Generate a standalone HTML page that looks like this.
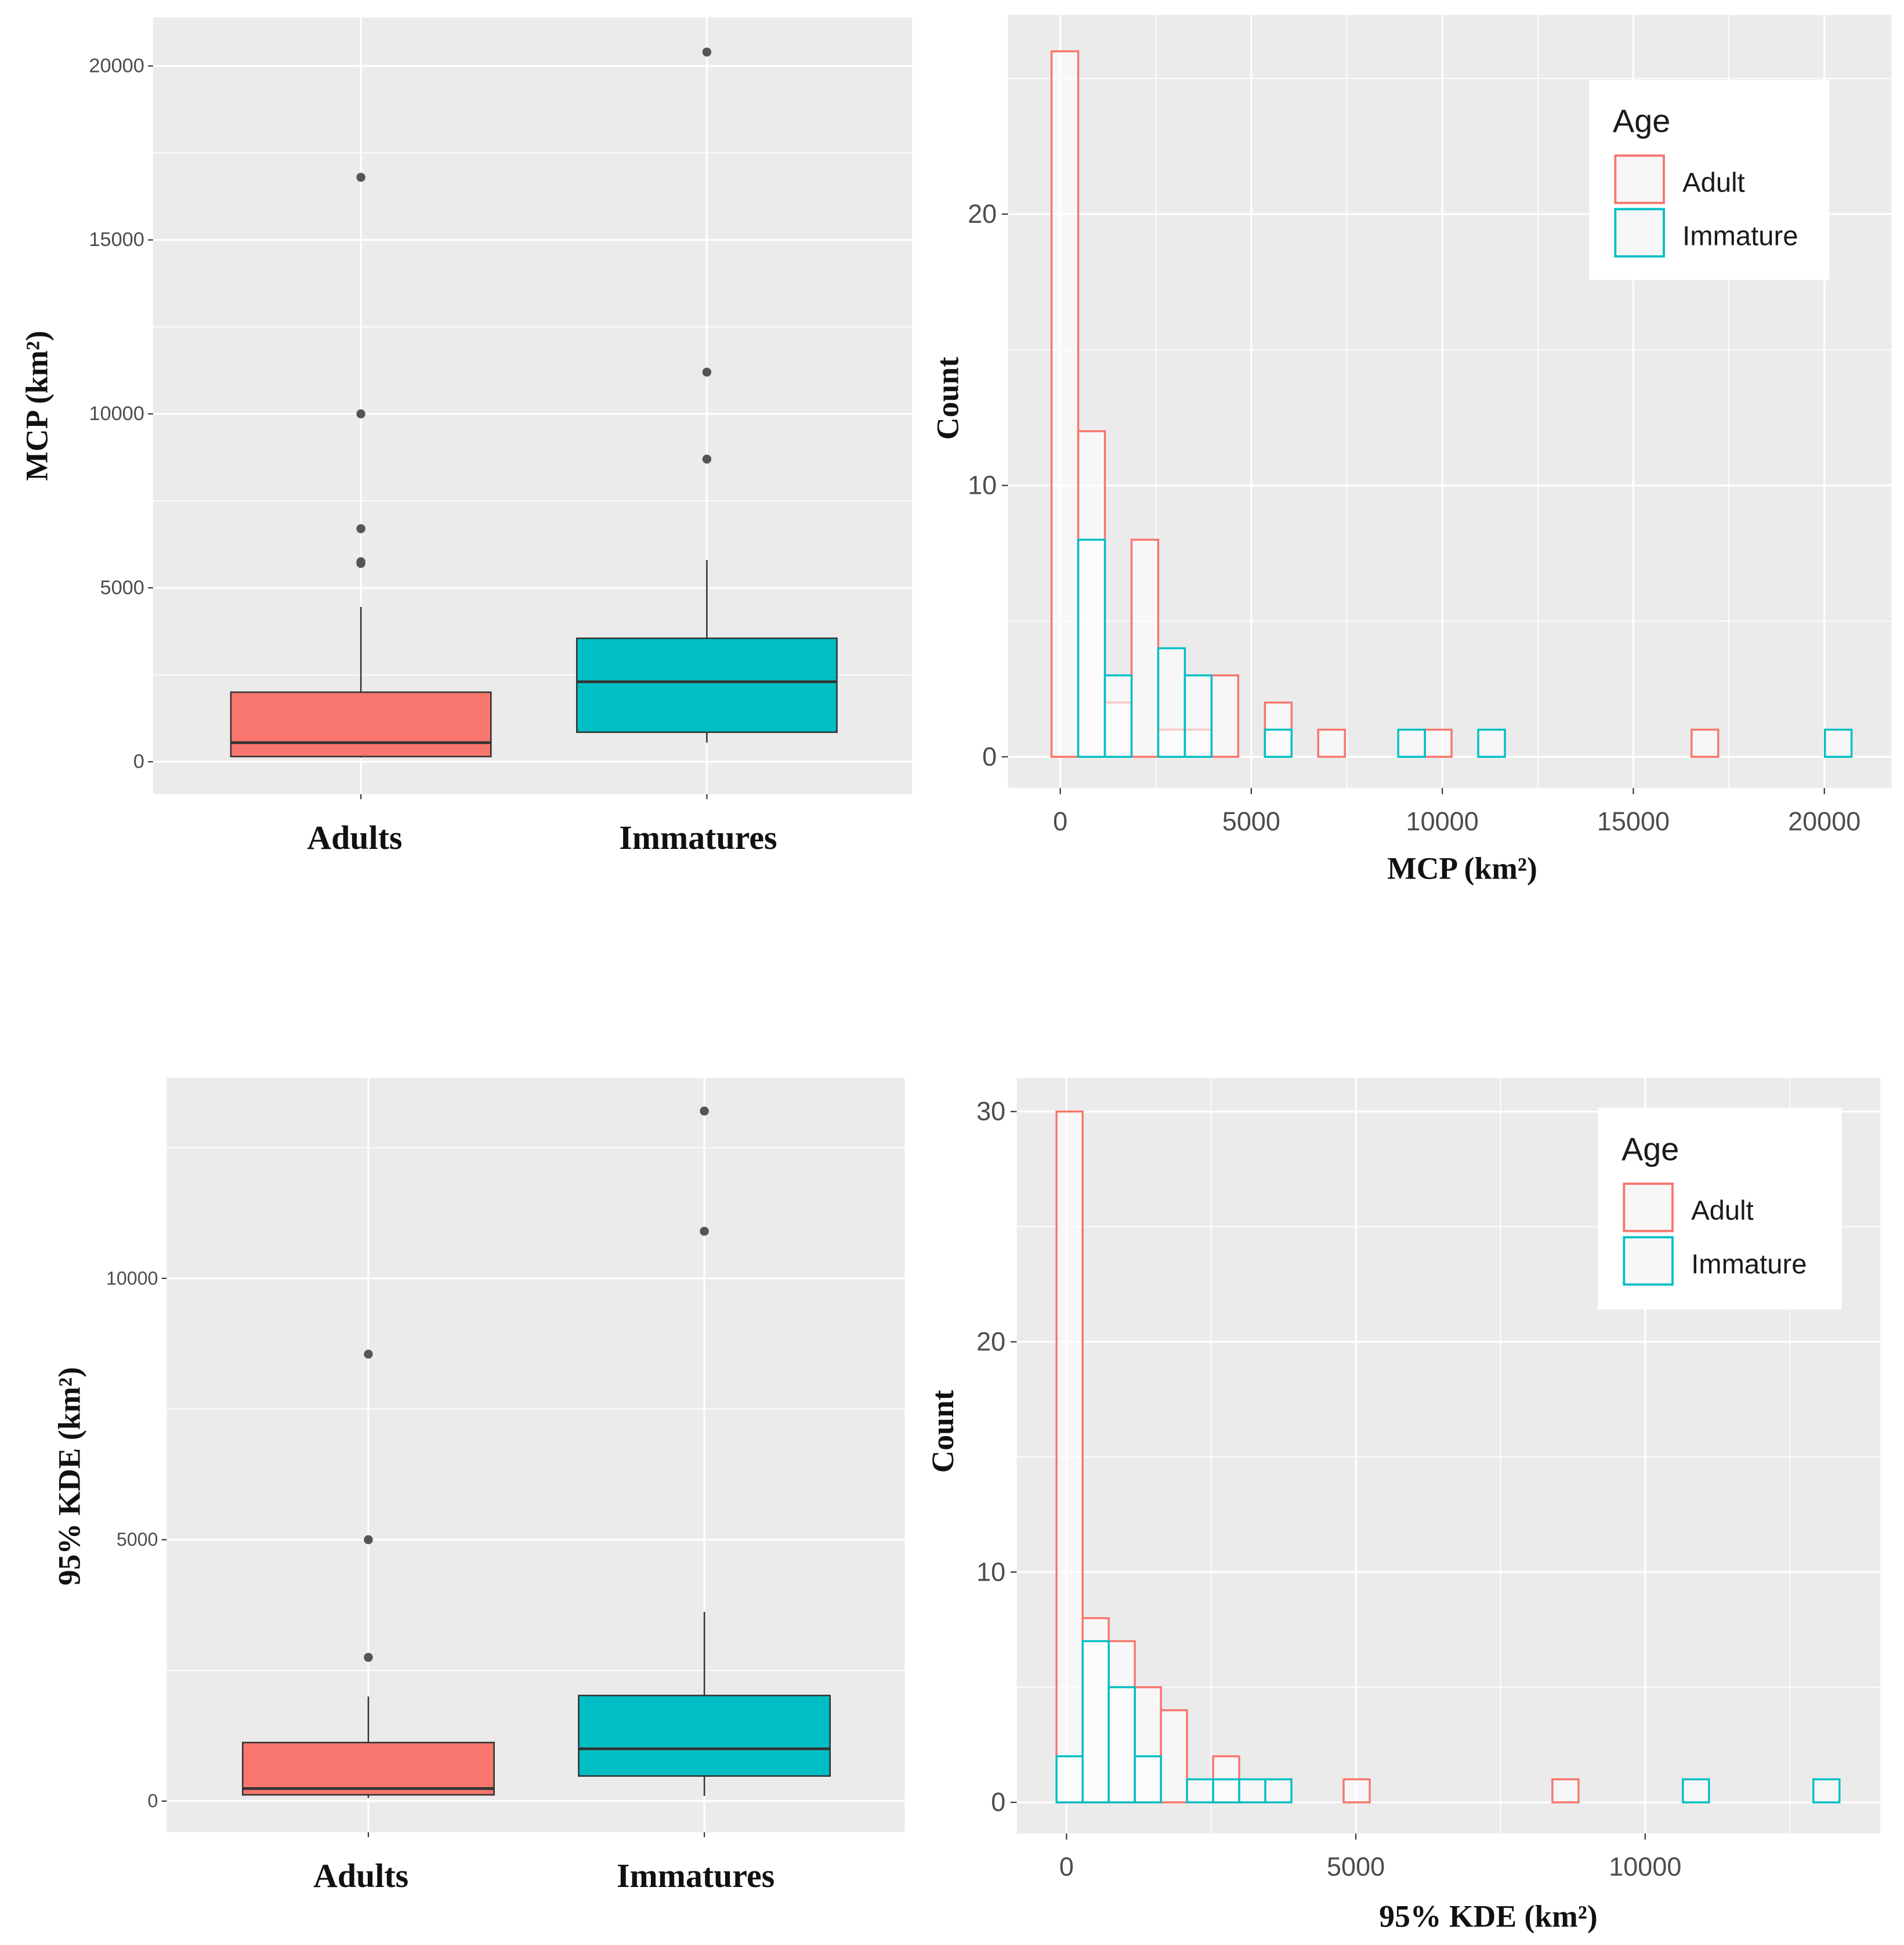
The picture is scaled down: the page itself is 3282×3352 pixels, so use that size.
<!DOCTYPE html>
<html><head><meta charset="utf-8"><style>
html,body{margin:0;padding:0;background:#fff;}
svg{display:block;}
.tick{font-family:"Liberation Sans",sans-serif;fill:#4d4d4d;}
.title{font-family:"Liberation Serif",serif;font-weight:bold;fill:#111;}
.leg{font-family:"Liberation Sans",sans-serif;fill:#1a1a1a;}
</style></head><body>
<svg id="fig" width="3282" height="3352" viewBox="0 0 1530 1562.6" xmlns="http://www.w3.org/2000/svg"></svg>
<script>
// ---- data ----
const boxCategories = ["Adults", "Immatures"];
const mcpBoxStats = [[150, 550, 2000, 4450], [850, 2300, 3550, 5800]]; // lower? q1, median, q3, whisker-top
const mcpWhiskerLow = [120, 550];
const mcpOutliers = [[5700, 5750, 6700, 10000, 16800], [8700, 11200, 20400]];
const mcpBoxTicks = [0, 5000, 10000, 15000, 20000];
const kdeBoxStats = [[120, 240, 1120, 2000], [480, 1000, 2020, 3620]];
const kdeWhiskerLow = [60, 100];
const kdeOutliers = [[2750, 5000, 8550], [10900, 13200]];
const kdeBoxTicks = [0, 5000, 10000];

const mcpAdultCounts = [26,12,2,8,1,1,3,0,2,0,1,0,0,0,1,0,0,0,0,0,0,0,0,0,1,0,0,0,0,0];
const mcpImmCounts   = [0,8,3,0,4,3,0,0,1,0,0,0,0,1,0,0,1,0,0,0,0,0,0,0,0,0,0,0,0,1];
const mcpBinStart = -228, mcpBinWidth = 698;
const mcpHistXTicks = [0, 5000, 10000, 15000, 20000];
const mcpHistYTicks = [0, 10, 20];
const kdeAdultCounts = [30,8,7,5,4,0,2,0,0,0,0,1,0,0,0,0,0,0,0,1,0,0,0,0,0,0,0,0,0,0];
const kdeImmCounts   = [2,7,5,2,0,1,1,1,1,0,0,0,0,0,0,0,0,0,0,0,0,0,0,0,1,0,0,0,0,1];
const kdeBinStart = -172, kdeBinWidth = 451;
const kdeHistXTicks = [0, 5000, 10000];
const kdeHistYTicks = [0, 10, 20, 30];

const RED = "#F8766D", TEAL = "#00BFC4";
const svg = document.getElementById('fig');
const NS = "http://www.w3.org/2000/svg";
function el(tag, attrs, parent, text) {
  const e = document.createElementNS(NS, tag);
  for (const k in attrs) e.setAttribute(k, attrs[k]);
  if (text !== undefined) e.textContent = text;
  (parent || svg).appendChild(e);
  return e;
}
function lin(d0, d1, r0, r1) { return v => r0 + (v - d0) * (r1 - r0) / (d1 - d0); }

function boxPanel(cfg) {
  const g = el('g', {});
  
  
  const bg = el('rect', {x: cfg.x0, y: cfg.y0, width: cfg.x1 - cfg.x0, height: cfg.y1 - cfg.y0, fill: '#ebebeb'}, g);
  
  
  const y = lin(0, cfg.ref, cfg.y0v, cfg.yref);
  const step = cfg.ticks[1] - cfg.ticks[0];
  for (let v = step / 2; y(v) > cfg.y0; v += step) {
    const ln = el('line', {x1: cfg.x0, x2: cfg.x1, y1: y(v), y2: y(v), stroke: '#fff', 'stroke-width': 0.8}, g);
    
    
  }
  cfg.ticks.forEach(t => {
    const ln = el('line', {x1: cfg.x0, x2: cfg.x1, y1: y(t), y2: y(t), stroke: '#fff', 'stroke-width': 1.5}, g);
    
    
    const tk = el('line', {x1: cfg.x0 - 4, x2: cfg.x0, y1: y(t), y2: y(t), stroke: '#333', 'stroke-width': 1}, g);
    
    
    const lb = el('text', {x: cfg.x0 - 7, y: y(t) + 5, 'text-anchor': 'end', 'font-size': cfg.tickFs, class: 'tick'}, g, String(t));
    
    
  });
  boxCategories.forEach((c, i) => {
    const cx = cfg.cx[i];
    const gl = el('line', {x1: cx, x2: cx, y1: cfg.y0, y2: cfg.y1, stroke: '#fff', 'stroke-width': 1.5}, g);
    
    
    const tk = el('line', {x1: cx, x2: cx, y1: cfg.y1, y2: cfg.y1 + 4, stroke: '#333', 'stroke-width': 1}, g);
    
    
    const s = cfg.stats[i];
    const w1 = el('line', {x1: cx, x2: cx, y1: y(s[2]), y2: y(s[3]), stroke: '#333', 'stroke-width': 1.2}, g);
    
    
    const w2 = el('line', {x1: cx, x2: cx, y1: y(s[0]), y2: y(cfg.wlow[i]), stroke: '#333', 'stroke-width': 1.2}, g);
    
    
    const b = el('rect', {x: cx - cfg.bw / 2, y: y(s[2]), width: cfg.bw, height: y(s[0]) - y(s[2]), fill: i ? TEAL : RED, stroke: '#333', 'stroke-width': 1.2}, g);
    
    
    const m = el('line', {x1: cx - cfg.bw / 2, x2: cx + cfg.bw / 2, y1: y(s[1]), y2: y(s[1]), stroke: '#333', 'stroke-width': 2.2}, g);
    
    
    cfg.out[i].forEach(o => {
      const p = el('circle', {cx: cx, cy: y(o), r: 3.6, fill: '#555'}, g);
      
      
    });
    const lb = el('text', {x: cfg.lx[i], y: cfg.ly, 'text-anchor': 'middle', 'font-size': 27, class: 'title'}, g, c);
    
    
  });
  const yt = el('text', {x: 0, y: 0, 'text-anchor': 'middle', 'font-size': 25, class: 'title', transform: `translate(${cfg.ytx},${cfg.yty}) rotate(-90)`}, g);
  
  
  yt.innerHTML = cfg.ytitle;
}

function histPanel(cfg) {
  const g = el('g', {});
  
  
  const bg = el('rect', {x: cfg.x0, y: cfg.y0, width: cfg.x1 - cfg.x0, height: cfg.y1 - cfg.y0, fill: '#ebebeb'}, g);
  
  
  const x = lin(0, cfg.xref, cfg.x0v, cfg.xrefpx);
  const y = lin(0, 10, cfg.y0v, cfg.y10);
  const xs = cfg.xt[1] - cfg.xt[0];
  for (let v = -xs / 2; x(v) < cfg.x1; v += xs) {
    if (x(v) <= cfg.x0) continue;
    const ln = el('line', {x1: x(v), x2: x(v), y1: cfg.y0, y2: cfg.y1, stroke: '#fff', 'stroke-width': 0.8}, g);
    
    
  }
  for (let v = 5; y(v) > cfg.y0; v += 10) {
    const ln = el('line', {x1: cfg.x0, x2: cfg.x1, y1: y(v), y2: y(v), stroke: '#fff', 'stroke-width': 0.8}, g);
    
    
  }
  cfg.xt.forEach(t => {
    const ln = el('line', {x1: x(t), x2: x(t), y1: cfg.y0, y2: cfg.y1, stroke: '#fff', 'stroke-width': 1.5}, g);
    
    
    const tk = el('line', {x1: x(t), x2: x(t), y1: cfg.y1, y2: cfg.y1 + 5, stroke: '#333'}, g);
    
    
    const lb = el('text', {x: x(t), y: cfg.y1 + 34, 'text-anchor': 'middle', 'font-size': 21, class: 'tick'}, g, String(t));
    
    
  });
  cfg.yt.forEach(t => {
    const ln = el('line', {x1: cfg.x0, x2: cfg.x1, y1: y(t), y2: y(t), stroke: '#fff', 'stroke-width': 1.5}, g);
    
    
    const tk = el('line', {x1: cfg.x0 - 5, x2: cfg.x0, y1: y(t), y2: y(t), stroke: '#333'}, g);
    
    
    const lb = el('text', {x: cfg.x0 - 9, y: y(t) + 7, 'text-anchor': 'end', 'font-size': 21, class: 'tick'}, g, String(t));
    
    
  });
  [[cfg.adult, RED, 'adult'], [cfg.imm, TEAL, 'immature']].forEach(([arr, col, nm]) => {
    arr.forEach((c, i) => {
      const a = cfg.bs + i * cfg.bw, b = a + cfg.bw;
      const r = el('rect', {x: x(a), y: y(c), width: x(b) - x(a), height: y(0) - y(c), fill: 'rgba(255,255,255,0.6)', stroke: col, 'stroke-width': 1.6}, g);
      
      
    });
  });
  const L = cfg.leg;
  const lg = el('g', {}, g);
  
  
  el('rect', {x: L.x, y: L.y, width: L.w, height: L.h, fill: '#fff'}, lg);
  const lt = el('text', {x: L.x + 19, y: L.y + 42, 'font-size': 26, class: 'leg'}, lg, 'Age');
  
  
  [['Adult', RED], ['Immature', TEAL]].forEach(([n, col], k) => {
    const ky = L.y + 61 + k * 43;
    const kb = el('rect', {x: L.x + 21, y: ky, width: 39, height: 38, fill: '#f7f7f7', stroke: col, 'stroke-width': 1.8}, lg);
    
    
    const kt = el('text', {x: L.x + 75, y: ky + 29, 'font-size': 22, class: 'leg'}, lg, n);
    
    
  });
  const yt = el('text', {x: 0, y: 0, 'text-anchor': 'middle', 'font-size': 25, class: 'title', transform: `translate(${cfg.ytx},${cfg.yty}) rotate(-90)`}, g, 'Count');
  
  
  const xt = el('text', {x: cfg.xtx, y: cfg.xty, 'text-anchor': 'middle', 'font-size': 25, class: 'title'}, g);
  
  
  xt.textContent = cfg.xtitle;
}

boxPanel({name: 'mcp-boxplot', x0: 123, x1: 733, y0: 14, y1: 638, ref: 20000, y0v: 612, yref: 53,
  ticks: mcpBoxTicks, tickFs: 16, cx: [290, 568], bw: 209, stats: mcpBoxStats, wlow: mcpWhiskerLow, out: mcpOutliers,
  lx: [285, 561], ly: 682, ytx: 38, yty: 326, ytitle: 'MCP (km²)'});
boxPanel({name: 'kde-boxplot', x0: 134, x1: 727, y0: 866, y1: 1472, ref: 10000, y0v: 1447, yref: 1027,
  ticks: kdeBoxTicks, tickFs: 15, cx: [296, 566], bw: 202, stats: kdeBoxStats, wlow: kdeWhiskerLow, out: kdeOutliers,
  lx: [290, 559], ly: 1516, ytx: 64, yty: 1186, ytitle: '95% KDE (km²)'});
histPanel({name: 'mcp-histogram', x0: 810, x1: 1520, y0: 12, y1: 633, xref: 20000, x0v: 852, xrefpx: 1466, y0v: 608, y10: 390,
  xt: mcpHistXTicks, yt: mcpHistYTicks, adult: mcpAdultCounts, imm: mcpImmCounts, bs: mcpBinStart, bw: mcpBinWidth,
  leg: {x: 1277, y: 64, w: 193, h: 161}, ytx: 770, yty: 320, xtx: 1175, xty: 706, xtitle: 'MCP (km²)'});
histPanel({name: 'kde-histogram', x0: 817, x1: 1511, y0: 866, y1: 1473, xref: 10000, x0v: 857, xrefpx: 1322, y0v: 1448, y10: 1263,
  xt: kdeHistXTicks, yt: kdeHistYTicks, adult: kdeAdultCounts, imm: kdeImmCounts, bs: kdeBinStart, bw: kdeBinWidth,
  leg: {x: 1284, y: 890, w: 196, h: 162}, ytx: 766, yty: 1150, xtx: 1196, xty: 1548, xtitle: '95% KDE (km²)'});
</script>
</body></html>
